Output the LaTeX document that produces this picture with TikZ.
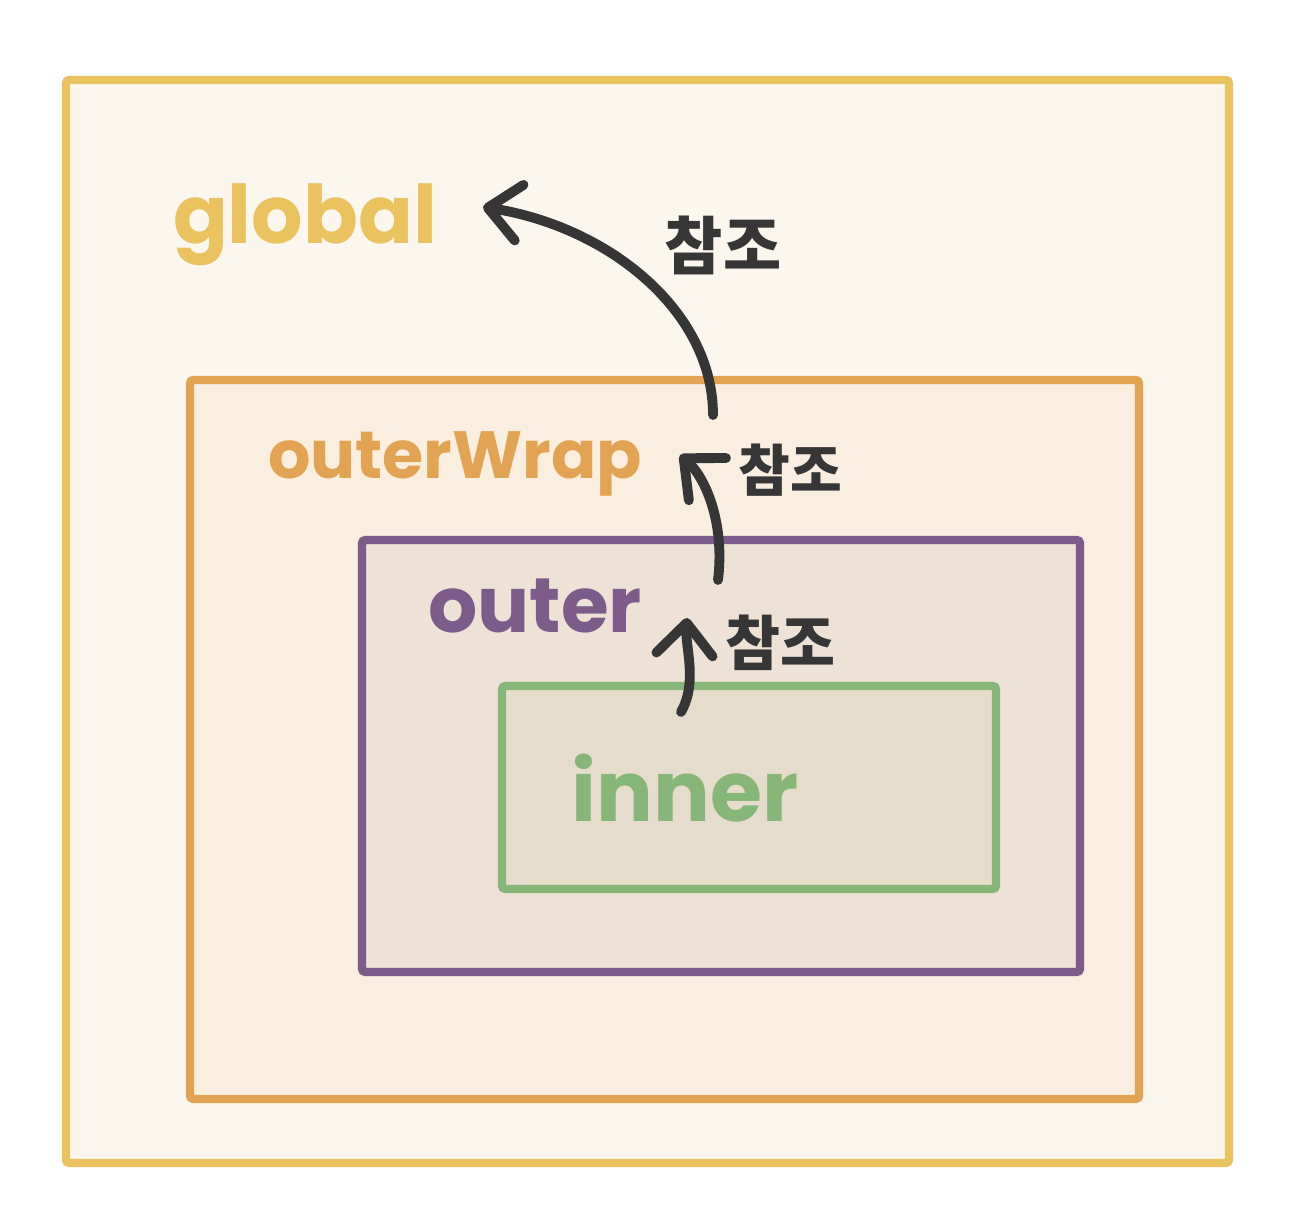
\documentclass[tikz,border=0pt]{standalone}
\usepackage{fontspec}
\setmainfont{Poppins}
\newfontfamily\kofont{Noto Sans CJK KR}
\usetikzlibrary{arrows.meta}

\definecolor{globalc}{HTML}{EBC35E}
\definecolor{wrapc}{HTML}{E2A452}
\definecolor{outerc}{HTML}{7D5C8C}
\definecolor{innerc}{HTML}{86B678}
\definecolor{inkc}{HTML}{363636}
\definecolor{globalfill}{HTML}{FBF6EE}
\definecolor{wrapfill}{HTML}{F9EEDF}
\definecolor{outerfill}{HTML}{EEE1D6}
\definecolor{innerfill}{HTML}{E5DCCC}

\tikzset{
  scopebox/.style={line width=2.4pt, rounded corners=1pt},
  scopename/.style={font=\bfseries\fontsize{#1}{#1}\selectfont, inner sep=0pt},
  refname/.style={font=\kofont\bfseries\fontsize{#1}{#1}\selectfont, text=inkc, inner sep=0pt},
  refarrow/.style={draw=inkc, line width=2.8pt, line cap=round, -{Straight Barb[length=9pt, width=16pt, line cap=round, line join=round]}}
}

\begin{document}
\begin{tikzpicture}
\useasboundingbox (0,0) rectangle (13.06,12.22);
\fill[white] (0,0) rectangle (13.06,12.22);

\filldraw[scopebox, draw=globalc, fill=globalfill] (0.66,0.59) rectangle (12.29,11.42);
\filldraw[scopebox, draw=wrapc, fill=wrapfill] (1.90,1.23) rectangle (11.39,8.42);
\filldraw[scopebox, draw=outerc, fill=outerfill] (3.62,2.50) rectangle (10.80,6.82);
\filldraw[scopebox, draw=innerc, fill=innerfill] (5.02,3.33) rectangle (9.96,5.36);

\node[scopename=23pt, text=globalc] (global) at (3.05,9.97) {global};
\node[scopename=19pt, text=wrapc] (outerwrap) at (4.55,7.58) {outerWrap};
\node[scopename=22pt, text=outerc] (outer) at (5.35,6.16) {outer};
\node[scopename=24pt, text=innerc] (inner) at (6.85,4.34) {inner};

\node[refname=18pt] (ref1) at (7.23,9.77) {참조};
\node[refname=16pt] (ref2) at (7.90,7.52) {참조};
\node[refname=17pt] (ref3) at (7.80,5.79) {참조};

\coordinate (fromwrap) at (7.13,8.07);
\coordinate (toglobal) at (4.83,10.15);
\coordinate (fromouter) at (7.18,6.42);
\coordinate (towrap) at (6.80,7.67);
\coordinate (frominner) at (6.81,5.10);
\coordinate (toouter) at (6.87,6.04);

\draw[refarrow] (fromwrap) .. controls (7.13,9.1) and (6.1,9.95) .. (toglobal);
\draw[refarrow] (fromouter) .. controls (7.25,7.0) and (7.05,7.45) .. (towrap);
\draw[refarrow] (frominner) .. controls (6.98,5.4) and (6.85,5.75) .. (toouter);

\end{tikzpicture}
\end{document}
